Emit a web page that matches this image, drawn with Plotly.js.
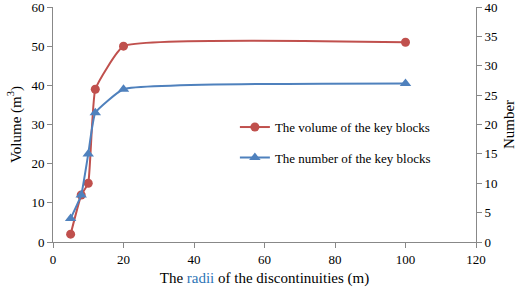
<!DOCTYPE html>
<html><head><meta charset="utf-8">
<script src="https://cdn.plot.ly/plotly-3.0.1.min.js"></script>
<style>html,body{margin:0;padding:0;background:#fff}#c{width:526px;height:289px}</style>
</head><body><div id="c"></div>
<script>
const radii = [5, 8, 10, 12, 20, 100];
const volume = [2, 12, 15, 39, 50, 51];
const number = [4, 8, 15, 22, 26, 27];
const volumeName = 'The volume of the key blocks';
const numberName = 'The number of the key blocks';

const font = 'Liberation Serif, Times New Roman, serif';
const axisCol = '#888888';
const red = '#C0504D', blue = '#4F81BD';

const traces = [
  {x: radii, y: volume, name: volumeName, type: 'scatter', mode: 'lines+markers',
   line: {color: red, width: 2, shape: 'spline', smoothing: 0.35},
   marker: {symbol: 'circle', size: 9, color: red}, yaxis: 'y', legend: 'legend'},
  {x: radii, y: number, name: numberName, type: 'scatter', mode: 'lines+markers',
   line: {color: blue, width: 2, shape: 'spline', smoothing: 0.35},
   marker: {symbol: 'triangle-up', size: 10, color: blue}, yaxis: 'y2', legend: 'legend2'}
];

const axBase = {showgrid: false, zeroline: false, showline: true, linecolor: axisCol, linewidth: 1,
  ticks: 'outside', ticklen: 5, tickcolor: axisCol, ticklabeloverflow: 'allow',
  tickfont: {family: font, size: 13, color: '#000'}};

const layout = {
  width: 526, height: 289,
  margin: {l: 53, r: 50, t: 7, b: 47},
  paper_bgcolor: '#fff', plot_bgcolor: '#fff',
  font: {family: font, color: '#000'},
  xaxis: Object.assign({}, axBase, {range: [0, 120], dtick: 20, tick0: 0,
    title: {text: 'The <span style="fill:#2E75B6">radii</span> of the discontinuities (m)', font: {family: font, size: 15}, standoff: 6}}),
  yaxis: Object.assign({}, axBase, {range: [0, 60], tickmode: 'array', tickvals: [0,10,20,30,40,50,60],
    title: {text: 'Volume (m<sup>3</sup>)', font: {family: font, size: 15}, standoff: 6}}),
  yaxis2: Object.assign({}, axBase, {range: [0, 40], tickmode: 'array', tickvals: [0,5,10,15,20,25,30,35,40], overlaying: 'y', side: 'right',
    title: {text: 'Number', font: {family: font, size: 15}, standoff: 6}}),
  legend: {x: 0.43, y: 0.489, xanchor: 'left', yanchor: 'middle', bgcolor: 'rgba(0,0,0,0)',
    font: {family: font, size: 13}},
  legend2: {x: 0.43, y: 0.359, xanchor: 'left', yanchor: 'middle', bgcolor: 'rgba(0,0,0,0)',
    font: {family: font, size: 13}},
  showlegend: true
};

Plotly.newPlot('c', traces, layout, {displayModeBar: false, staticPlot: true});
</script></body></html>
